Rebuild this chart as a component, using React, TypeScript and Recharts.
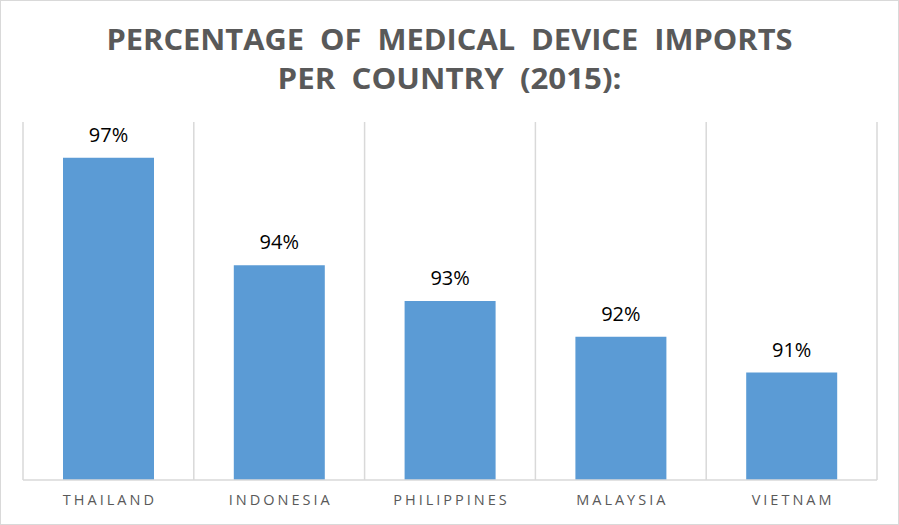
import { BarChart, Bar, XAxis, YAxis, CartesianGrid, LabelList } from "recharts";

const countries = ["THAILAND", "INDONESIA", "PHILIPPINES", "MALAYSIA", "VIETNAM"];
const importShare = [97, 94, 93, 92, 91];
const titleLines = ["PERCENTAGE  OF  MEDICAL  DEVICE  IMPORTS", "PER  COUNTRY  (2015):"];

const data = countries.map((name, i) => ({ name, value: importShare[i] }));

const FONT = "'Open Sans', 'DejaVu Sans', sans-serif";

// grid lines sit between categories, not on them
const boundaryLines = ({ offset }: any) => {
    const lines: number[] = [];
    for (let i = 0; i <= countries.length; i++) {
        lines.push(offset.left + (offset.width * i) / countries.length);
    }
    return lines;
};

const CountryTick = (props: any) => {
    const { x, y, payload } = props;
    return (
        <text
            x={x + 1.5}
            y={y}
            dy={17}
            textAnchor="middle"
            fill="#595959"
            fontSize={14.5}
            fontFamily={FONT}
            style={{ letterSpacing: "3px" }}
        >
            {payload.value}
        </text>
    );
};

export default function App() {
    return (
        <div
            style={{
                position: "relative",
                width: 899,
                height: 525,
                boxSizing: "border-box",
                border: "1px solid #d9d9d9",
                background: "#fff",
            }}
        >
            <style>{`body{margin:0}`}</style>
            <svg width={899} height={110} style={{ position: "absolute", left: -1, top: -1 }}>
                <text
                    x={449.5}
                    y={50}
                    textAnchor="middle"
                    fontFamily={FONT}
                    fontWeight="bold"
                    fontSize={29}
                    fill="#595959"
                    textLength={686}
                    lengthAdjust="spacingAndGlyphs"
                    style={{ whiteSpace: "pre" }}
                >
                    {titleLines[0]}
                </text>
                <text
                    x={449.5}
                    y={89}
                    textAnchor="middle"
                    fontFamily={FONT}
                    fontWeight="bold"
                    fontSize={29}
                    fill="#595959"
                    textLength={344}
                    lengthAdjust="spacingAndGlyphs"
                    style={{ whiteSpace: "pre" }}
                >
                    {titleLines[1]}
                </text>
            </svg>
            <div style={{ position: "absolute", left: -1, top: -1 }}>
                <BarChart
                    width={899}
                    height={525}
                    data={data}
                    margin={{ top: 122, right: 22, bottom: 5, left: 23 }}
                >
                    <CartesianGrid
                        horizontal={false}
                        vertical={true}
                        stroke="#d9d9d9"
                        strokeWidth={1.5}
                        verticalCoordinatesGenerator={boundaryLines}
                    />
                    <XAxis
                        dataKey="name"
                        height={40}
                        tickLine={false}
                        axisLine={{ stroke: "#d9d9d9", strokeWidth: 1.5 }}
                        tick={<CountryTick />}
                        interval={0}
                    />
                    <YAxis hide type="number" domain={[88, 98]} allowDataOverflow />
                    <Bar dataKey="value" fill="#5b9bd5" barSize={91} isAnimationActive={false}>
                        <LabelList
                            dataKey="value"
                            position="top"
                            offset={16}
                            formatter={(v: any) => `${v}%`}
                            fill="#000"
                            fontSize={20}
                            fontFamily={FONT}
                        />
                    </Bar>
                </BarChart>
            </div>
        </div>
    );
}
